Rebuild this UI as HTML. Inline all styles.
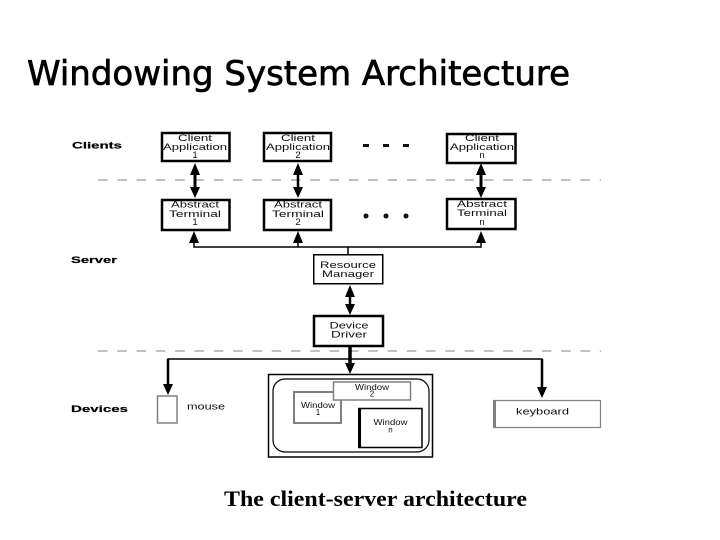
<!DOCTYPE html>
<html><head><meta charset="utf-8"><style>
html,body{margin:0;padding:0;background:#fff}
svg{display:block}
.l{font-family:"Liberation Sans",sans-serif;font-size:9.5px;fill:#111;text-anchor:middle;filter:url(#soft)}
.w{font-family:"Liberation Sans",sans-serif;font-size:8px;fill:#111;text-anchor:middle;filter:url(#soft)}
.b{font-family:"Liberation Sans",sans-serif;font-size:9.5px;font-weight:bold;fill:#000;stroke:#000;stroke-width:.2;filter:url(#soft)}
.box{fill:#fff;stroke:#000;stroke-width:2.5}
.dash{stroke:#808080;stroke-width:1;stroke-dasharray:9.5 9.8;fill:none}
</style></head><body>
<svg width="720" height="540" viewBox="0 0 720 540" xmlns="http://www.w3.org/2000/svg">
<defs><filter id="soft" x="-10%" y="-30%" width="120%" height="160%"><feGaussianBlur stdDeviation="0.3"/></filter></defs>
<text x="27" y="85" font-family="'DejaVu Sans',sans-serif" font-size="34" fill="#000" stroke="#000" stroke-width="0.7" textLength="543" lengthAdjust="spacingAndGlyphs">Windowing System Architecture</text>

<line class="dash" x1="98" y1="180" x2="601" y2="180"/>
<line class="dash" x1="98" y1="351" x2="601" y2="351"/>

<text class="b" x="72" y="148.500" textLength="50" lengthAdjust="spacingAndGlyphs">Clients</text>
<text class="b" x="71" y="263" textLength="46" lengthAdjust="spacingAndGlyphs">Server</text>
<text class="b" x="71" y="412" textLength="57" lengthAdjust="spacingAndGlyphs">Devices</text>

<!-- boxes -->
<rect class="box" x="162" y="133" width="67.500" height="28"/>
<rect class="box" x="264" y="133" width="67" height="28"/>
<rect class="box" x="447" y="134" width="68.500" height="29"/>
<rect class="box" x="162" y="200" width="67.500" height="30"/>
<rect class="box" x="264" y="200" width="67" height="30"/>
<rect class="box" x="447" y="199" width="68.500" height="30"/>
<rect x="313.750" y="254.750" width="69" height="29" fill="#fff" stroke="#000" stroke-width="1.500"/>
<rect class="box" x="314" y="316" width="69" height="30"/>

<text class="l" x="195" y="141" textLength="34" lengthAdjust="spacingAndGlyphs">Client</text>
<text class="l" x="195" y="150" textLength="64" lengthAdjust="spacingAndGlyphs">Application</text>
<text class="l" x="195" y="158">1</text>
<text class="l" x="298" y="141" textLength="34" lengthAdjust="spacingAndGlyphs">Client</text>
<text class="l" x="298" y="150" textLength="64" lengthAdjust="spacingAndGlyphs">Application</text>
<text class="l" x="298" y="158">2</text>
<text class="l" x="482" y="141" textLength="34" lengthAdjust="spacingAndGlyphs">Client</text>
<text class="l" x="482" y="150" textLength="64" lengthAdjust="spacingAndGlyphs">Application</text>
<text class="l" x="482" y="158">n</text>

<text class="l" x="195" y="207.500" textLength="48" lengthAdjust="spacingAndGlyphs">Abstract</text>
<text class="l" x="195" y="217" textLength="52" lengthAdjust="spacingAndGlyphs">Terminal</text>
<text class="l" x="195" y="225">1</text>
<text class="l" x="298" y="207.500" textLength="48" lengthAdjust="spacingAndGlyphs">Abstract</text>
<text class="l" x="298" y="217" textLength="52" lengthAdjust="spacingAndGlyphs">Terminal</text>
<text class="l" x="298" y="225">2</text>
<text class="l" x="482" y="207" textLength="50" lengthAdjust="spacingAndGlyphs">Abstract</text>
<text class="l" x="482" y="216" textLength="50" lengthAdjust="spacingAndGlyphs">Terminal</text>
<text class="l" x="482" y="225">n</text>

<text class="l" x="348" y="268" textLength="56" lengthAdjust="spacingAndGlyphs">Resource</text>
<text class="l" x="348" y="277" textLength="52" lengthAdjust="spacingAndGlyphs">Manager</text>
<text class="l" x="349" y="328.500" textLength="39" lengthAdjust="spacingAndGlyphs">Device</text>
<text class="l" x="349" y="337.500" textLength="36" lengthAdjust="spacingAndGlyphs">Driver</text>

<!-- ellipsis -->
<g fill="#111">
<rect x="363" y="144" width="6" height="3"/><rect x="383" y="144" width="6" height="3"/><rect x="403" y="144" width="6" height="3"/>
<circle cx="366" cy="216" r="2.500"/><circle cx="386" cy="216" r="2.500"/><circle cx="406" cy="216" r="2.500"/>
</g>

<!-- connectors -->
<g stroke="#000" fill="none">
<line x1="195" y1="170" x2="195" y2="192" stroke-width="3"/>
<line x1="298" y1="170" x2="298" y2="192" stroke-width="2.500"/>
<line x1="481" y1="172" x2="481" y2="190" stroke-width="3"/>
<polyline points="194,238 194,247 481,247 481,238" stroke-width="1.500"/>
<line x1="298" y1="238" x2="298" y2="247" stroke-width="1.500"/>
<line x1="348" y1="247" x2="348" y2="255" stroke-width="1.500"/>
<line x1="350" y1="292" x2="350" y2="308" stroke-width="2.500"/>
<line x1="350" y1="346" x2="350" y2="368" stroke-width="3.500"/>
<polyline points="168,390 168,359 542,359 542,392" stroke-width="1.500"/>
<line x1="168" y1="359" x2="168" y2="388" stroke-width="2.500"/>
<line x1="542" y1="359" x2="542" y2="390" stroke-width="2.500"/>
</g>
<g fill="#000">
<polygon points="195,163 190,175 200,175"/><polygon points="195,198 190,187 200,187"/>
<polygon points="298,163 293,175 303,175"/><polygon points="298,198 293,187 303,187"/>
<polygon points="481,163 476,175 486,175"/><polygon points="481,198 476,187 486,187"/>
<polygon points="194,231 189,243 199,243"/>
<polygon points="298,231 293,243 303,243"/>
<polygon points="481,231 476,243 486,243"/>
<polygon points="350,285 345,297 355,297"/>
<polygon points="350,315 345,304 355,304"/>
<polygon points="350,374 345,363 355,363"/>
<polygon points="168,395 163,384 173,384"/>
<polygon points="542,398 537,387 547,387"/>
</g>

<!-- display -->
<rect x="268.500" y="374.500" width="164" height="82.500" fill="#fff" stroke="#000" stroke-width="1.500"/>
<rect x="273" y="379" width="156" height="73" rx="12" ry="12" fill="#fff" stroke="#000" stroke-width="1.200"/>
<rect x="294" y="392" width="47" height="31" fill="#fff" stroke="#808080" stroke-width="2"/>
<text class="w" x="318" y="408" textLength="34" lengthAdjust="spacingAndGlyphs">Window</text>
<text class="w" x="318" y="415">1</text>
<rect x="333.500" y="382" width="77" height="18" fill="#fff" stroke="#808080" stroke-width="1.500"/>
<text class="w" x="372" y="390" textLength="34" lengthAdjust="spacingAndGlyphs">Window</text>
<text class="w" x="372" y="396.500">2</text>
<rect x="359" y="408.500" width="63" height="39" fill="#fff" stroke="#000" stroke-width="1.500"/>
<rect x="358" y="408" width="3" height="40" fill="#000"/>
<text class="w" x="390.500" y="425" textLength="34" lengthAdjust="spacingAndGlyphs">Window</text>
<text class="w" x="390.500" y="432.500">n</text>

<!-- devices -->
<rect x="157.500" y="396" width="19.500" height="27" fill="#fff" stroke="#808080" stroke-width="1.500"/>
<text class="l" x="206" y="409.500" textLength="38" lengthAdjust="spacingAndGlyphs">mouse</text>
<rect x="494" y="400.500" width="106.500" height="27" fill="#fff" stroke="#808080" stroke-width="1.200"/>
<rect x="493" y="400" width="3" height="28" fill="#808080"/>
<text class="l" x="542.500" y="414.500" textLength="53" lengthAdjust="spacingAndGlyphs">keyboard</text>

<text x="224" y="506" font-family="'Liberation Serif',serif" font-weight="bold" font-size="22" fill="#000" textLength="303" lengthAdjust="spacingAndGlyphs">The client-server architecture</text>
</svg>
</body></html>
